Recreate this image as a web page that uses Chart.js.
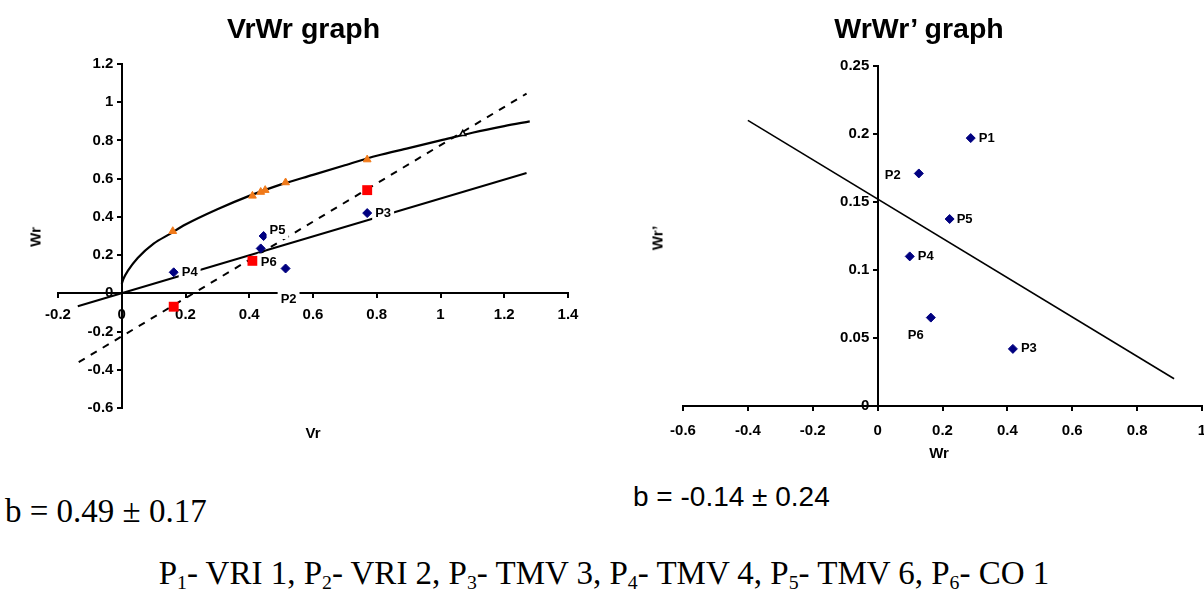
<!DOCTYPE html>
<html><head><meta charset="utf-8">
<script src="https://cdn.jsdelivr.net/npm/chart.js@4.4.1/dist/chart.umd.min.js"></script>
<style>
html,body{margin:0;padding:0;background:#fff;overflow:hidden;width:1204px;height:599px;}
#wrap{position:relative;width:1204px;height:599px;overflow:hidden;background:#fff;}
.t{position:absolute;white-space:nowrap;line-height:1;color:#000;}
.sans{font-family:"Liberation Sans",Arial,sans-serif;}
.serif{font-family:"Liberation Serif","Times New Roman",serif;}
.b{font-weight:bold;}
canvas{position:absolute;top:0;}
sub{font-size:0.6em;vertical-align:-0.25em;line-height:0;}
</style></head><body>
<div id="wrap">
<canvas id="c1" width="602" height="470" style="left:0"></canvas>
<canvas id="c2" width="620" height="470" style="left:602px"></canvas>

<div class="t sans b" style="left:0;width:607px;text-align:center;top:14px;font-size:28.5px;">VrWr graph</div>
<div class="t sans b" style="left:619px;width:600px;text-align:center;top:14px;font-size:28.5px;">WrWr’ graph</div>
<div class="t sans b" style="left:35px;top:237px;font-size:15px;transform:translate(-50%,-50%) rotate(-90deg);">Wr</div>
<div class="t sans b" style="left:313px;top:432px;font-size:15px;transform:translate(-50%,-50%);">Vr</div>
<div class="t sans b" style="left:657px;top:238px;font-size:15px;transform:translate(-50%,-50%) rotate(-90deg);">Wr’</div>
<div class="t sans b" style="left:939px;top:452px;font-size:15px;transform:translate(-50%,-50%);">Wr</div>

<div class="t serif" style="left:5px;top:495px;font-size:33px;">b = 0.49 ± 0.17</div>
<div class="t sans" style="left:633px;top:483px;font-size:28px;">b = -0.14 ± 0.24</div>
<div class="t serif" style="left:0;width:1208px;text-align:center;top:557px;font-size:33px;">P<sub>1</sub>- VRI 1, P<sub>2</sub>- VRI 2, P<sub>3</sub>- TMV 3, P<sub>4</sub>- TMV 4, P<sub>5</sub>- TMV 6, P<sub>6</sub>- CO 1</div>
</div>
<script>
// ---------- VrWr graph data ----------
const vrTicks = [-0.2, 0, 0.2, 0.4, 0.6, 0.8, 1, 1.2, 1.4];
const wrTicks = [-0.6, -0.4, -0.2, 0, 0.2, 0.4, 0.6, 0.8, 1, 1.2];

const parabolaVr = [0, 0.005, 0.02, 0.05, 0.1, 0.15, 0.2, 0.3, 0.4, 0.5, 0.6, 0.7, 0.8, 0.9, 1.0, 1.1, 1.2, 1.28];
const parabolaWr = [0.05, 0.075, 0.12, 0.185, 0.26, 0.31, 0.36, 0.44, 0.51, 0.57, 0.62, 0.67, 0.72, 0.76, 0.80, 0.84, 0.875, 0.90];

const limitVr = [0.16, 0.41, 0.436, 0.45, 0.514, 0.77];
const limitWr = [0.325, 0.51, 0.53, 0.54, 0.58, 0.70];

const parentNamesL = ['P4', 'P6', 'P5', 'P2', 'P3'];
const parentVr = [0.163, 0.436, 0.445, 0.514, 0.77];
const parentWr = [0.11, 0.235, 0.30, 0.13, 0.42];

const expectedVr = [0.163, 0.41, 0.77];
const expectedWr = [-0.07, 0.17, 0.54];

const regLineVr = [-0.138, 1.27];
const regLineWr = [-0.068, 0.63];

const unitLineVr = [-0.135, 1.27];
const unitLineWr = [-0.36, 1.045];

const crossVr = [1.07];
const crossWr = [0.835];

// ---------- WrWr' graph data ----------
const wrAxisTicks = [-0.6, -0.4, -0.2, 0, 0.2, 0.4, 0.6, 0.8, 1];
const wrPrimeTicks = [0, 0.05, 0.1, 0.15, 0.2, 0.25];

const parentNamesR = ['P1', 'P2', 'P3', 'P4', 'P5', 'P6'];
const wrValues = [0.287, 0.127, 0.417, 0.099, 0.222, 0.164];
const wrPrimeValues = [0.197, 0.171, 0.042, 0.110, 0.1375, 0.065];

const regWrX = [-0.40, 0.914];
const regWrY = [0.21, 0.02];

// ---------- helpers ----------
const zip = (xs, ys) => xs.map((x, i) => ({x: x, y: ys[i]}));
const FONT = '"Liberation Sans", Arial, sans-serif';

const pointLabels = {
  id: 'pointLabels',
  afterDatasetsDraw(chart, args, opts) {
    if (!opts || !opts.items) return;
    const ctx = chart.ctx;
    ctx.save();
    ctx.font = 'bold 13px ' + FONT;
    ctx.textBaseline = 'middle';
    ctx.textAlign = 'left';
    opts.items.forEach(it => {
      const el = chart.getDatasetMeta(it.ds).data[it.i];
      const text = it.names[it.i];
      const w = ctx.measureText(text).width;
      const x = el.x + it.dx, y = el.y + it.dy;
      const left = it.align === 'center' ? x - w / 2 : (it.align === 'right' ? x - w : x);
      if (opts.box) {
        ctx.fillStyle = '#fff';
        ctx.fillRect(left - 3, y - 9, w + 6, 18);
      }
      ctx.fillStyle = '#000';
      ctx.fillText(text, left, y);
    });
    ctx.restore();
  }
};

function axisCfg(ticksArr, min, max, pos, isY, pad) {
  return {
    type: 'linear', min: min, max: max, position: pos,
    afterBuildTicks: s => { s.ticks = ticksArr.map(v => ({value: v})); },
    ticks: {
      autoSkip: false, maxRotation: 0, minRotation: 0, padding: pad,
      color: '#000', font: {family: FONT, size: 15, weight: 'bold'},
      callback: v => isY ? String(v) + '  ' : String(v)
    },
    grid: {display: true, drawOnChartArea: false, drawTicks: true, tickLength: 4, color: '#000', lineWidth: 2},
    border: {display: true, color: '#000', width: 2}
  };
}

const common = {
  responsive: false,
  animation: false,
  events: [],
  plugins: {legend: {display: false}, tooltip: {enabled: false}, title: {display: false}}
};

// ---------- Left chart ----------
new Chart(document.getElementById('c1'), {
  type: 'scatter',
  data: {
    datasets: [
      {label: 'Parents', data: zip(parentVr, parentWr), pointStyle: 'rectRot', pointRadius: 4.5,
        backgroundColor: '#000080', borderColor: '#000080', borderWidth: 1},
      {label: 'Expected', data: zip(expectedVr, expectedWr), pointStyle: 'rect', pointRadius: 7,
        backgroundColor: '#ff0000', borderColor: '#ff0000', borderWidth: 0},
      {label: 'Limit', data: zip(limitVr, limitWr), pointStyle: 'triangle', pointRadius: 4.5,
        backgroundColor: '#f07a1a', borderColor: '#f07a1a', borderWidth: 1},
      {label: 'Cross', data: zip(crossVr, crossWr), pointStyle: 'triangle', pointRadius: 3.5,
        backgroundColor: '#ffffff', borderColor: '#000', borderWidth: 1.5},
      {label: 'Parabola', data: zip(parabolaVr, parabolaWr), showLine: true, pointRadius: 0,
        borderColor: '#000', borderWidth: 2.2, cubicInterpolationMode: 'monotone'},
      {label: 'Regression', data: zip(regLineVr, regLineWr), showLine: true, pointRadius: 0,
        borderColor: '#000', borderWidth: 2},
      {label: 'Unit slope', data: zip(unitLineVr, unitLineWr), showLine: true, pointRadius: 0,
        borderColor: '#000', borderWidth: 2, borderDash: [7, 7]}
    ]
  },
  options: Object.assign({}, common, {
    layout: {padding: {left: 58, right: 34, top: 64, bottom: 62}},
    scales: {
      x: axisCfg(vrTicks, -0.2, 1.4, {y: 0}, false, 9),
      y: axisCfg(wrTicks, -0.6, 1.2, {x: 0}, true, 0)
    },
    plugins: Object.assign({}, common.plugins, {
      pointLabels: {box: true, items: [
        {ds: 0, i: 0, names: parentNamesL, dx: 8, dy: 0},
        {ds: 0, i: 1, names: parentNamesL, dx: 0, dy: 14},
        {ds: 0, i: 2, names: parentNamesL, dx: 6, dy: -6},
        {ds: 0, i: 3, names: parentNamesL, dx: 3, dy: 31, align: 'center'},
        {ds: 0, i: 4, names: parentNamesL, dx: 8, dy: 0}
      ]}
    })
  }),
  plugins: [pointLabels]
});

// ---------- Right chart ----------
new Chart(document.getElementById('c2'), {
  type: 'scatter',
  data: {
    datasets: [
      {label: 'Parents', data: zip(wrValues, wrPrimeValues), pointStyle: 'rectRot', pointRadius: 4.5,
        backgroundColor: '#000080', borderColor: '#000080', borderWidth: 1},
      {label: 'Regression', data: zip(regWrX, regWrY), showLine: true, pointRadius: 0,
        borderColor: '#000', borderWidth: 1.6}
    ]
  },
  options: Object.assign({}, common, {
    layout: {padding: {left: 81, right: 20, top: 66, bottom: 64}},
    scales: {
      x: axisCfg(wrAxisTicks, -0.6, 1, {y: 0}, false, 12),
      y: axisCfg(wrPrimeTicks, 0, 0.25, {x: 0}, true, 0)
    },
    plugins: Object.assign({}, common.plugins, {
      pointLabels: {box: false, items: [
        {ds: 0, i: 0, names: parentNamesR, dx: 8, dy: 0},
        {ds: 0, i: 1, names: parentNamesR, dx: -34, dy: 2},
        {ds: 0, i: 2, names: parentNamesR, dx: 8, dy: 0},
        {ds: 0, i: 3, names: parentNamesR, dx: 8, dy: 0},
        {ds: 0, i: 4, names: parentNamesR, dx: 7, dy: 0},
        {ds: 0, i: 5, names: parentNamesR, dx: -15, dy: 18, align: 'center'}
      ]}
    })
  }),
  plugins: [pointLabels]
});
</script>
</body></html>
